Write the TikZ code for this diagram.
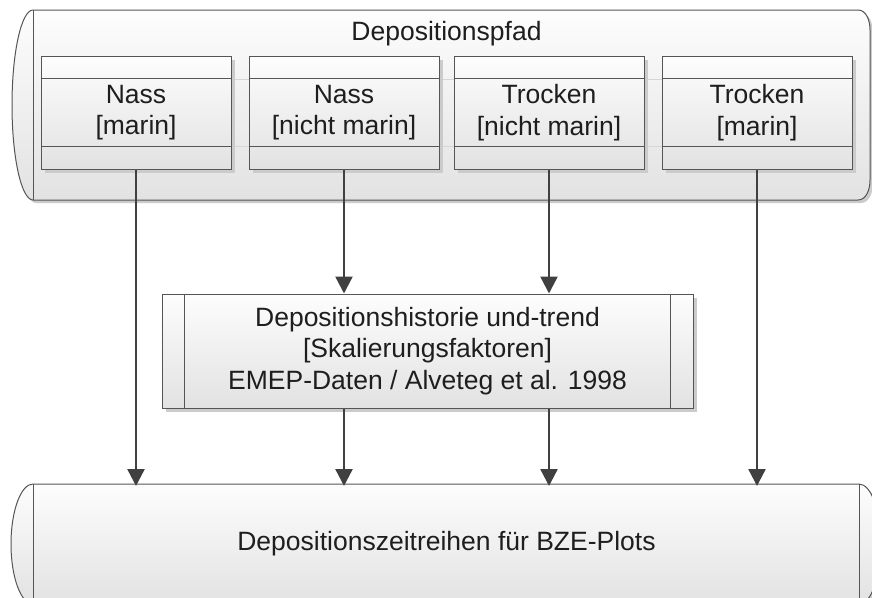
\documentclass[tikz,border=0pt]{standalone}
\usepackage{fontspec}
\setmainfont{Liberation Sans}
\usetikzlibrary{arrows.meta,shadows}
\definecolor{linec}{HTML}{555555}
\definecolor{arrc}{HTML}{404040}
\definecolor{shadc}{HTML}{CBCBCB}
\definecolor{gtop}{HTML}{FDFDFD}
\definecolor{gbot}{HTML}{E2E2E2}
\definecolor{txtc}{HTML}{1E1E1E}
\definecolor{faint}{HTML}{D6D6D6}
\begin{document}
\begin{tikzpicture}[x=1pt,y=-1pt,
  txt/.style={font=\fontsize{26.5}{31.5}\selectfont, text=txtc, align=center},
  contst/.style={draw=linec, line width=1pt, top color=gtop, bottom color=gbot},
  boxst/.style={draw=linec, line width=1pt, top color=gtop, bottom color=gbot,
    drop shadow={shadow xshift=4pt, shadow yshift=-4pt, fill=shadc, opacity=1},
    inner sep=0pt},
  sepline/.style={draw=linec, line width=1pt},
  arr/.style={draw=arrc, line width=2.4pt, -{Triangle[length=17pt,width=17pt]}}]
\useasboundingbox (0,0) rectangle (872,597);
\clip (0,0) rectangle (872,597);
\def\toppath{(33,10) -- (858,10) .. controls (866,10) and (870,20) .. (870,30) -- (870,180) .. controls (870,190) and (866,200) .. (858,200) -- (33,200) .. controls (21.4,200) and (12,157.5) .. (12,105) .. controls (12,52.5) and (21.4,10) .. (33,10) -- cycle}
\def\botpath{(33,484) -- (859,484) .. controls (871.15,484) and (881,510.9) .. (881,544) .. controls (881,577.1) and (871.15,604) .. (859,604) -- (33,604) .. controls (20.85,604) and (11,577.1) .. (11,544) .. controls (11,510.9) and (20.85,484) .. (33,484) -- cycle}
% top container
\begin{scope}[shift={(3,3)}]
  \fill[shadc] \toppath;
\end{scope}
\path[contst] \toppath;
\draw[sepline] (33,10) -- (33,200);
\node[txt, anchor=base] (toptxt) at (446.5,40) {Depositionspfad};
% faint guide lines
\draw[faint, line width=0.8pt] (41,79) -- (852,79);
\draw[faint, line width=0.8pt] (41,146) -- (852,146);
% inner boxes
\node[boxst, txt, minimum width=190pt, minimum height=113pt] (b1) at (136,112.5) {Nass\\{}[marin]};
\node[boxst, txt, minimum width=190pt, minimum height=113pt] (b2) at (344,112.5) {Nass\\{}[nicht marin]};
\node[boxst, txt, minimum width=190pt, minimum height=113pt] (b3) at (549,112.5) {Trocken\\{}[nicht marin]};
\node[boxst, txt, minimum width=190pt, minimum height=113pt] (b4) at (757,112.5) {Trocken\\{}[marin]};
\foreach \b in {b1,b2,b3,b4}{
  \draw[sepline] ([yshift=-23pt]\b.north west) -- ([yshift=-23pt]\b.north east);
  \draw[sepline] ([yshift=23pt]\b.south west) -- ([yshift=23pt]\b.south east);
}
% middle box
\node[boxst, txt, minimum width=531pt, minimum height=114pt] (mid) at (427.5,351)
  {Depositionshistorie und-trend\\{}[Skalierungsfaktoren]\\EMEP-Daten / Alveteg et al. 1998};
\draw[sepline] ([xshift=23pt]mid.north west) -- ([xshift=23pt]mid.south west);
\draw[sepline] ([xshift=-23pt]mid.north east) -- ([xshift=-23pt]mid.south east);
% bottom container
\begin{scope}[shift={(3,3)}]
  \fill[shadc] \botpath;
\end{scope}
\path[contst] \botpath;
\draw[sepline] (33,484) -- (33,604);
\draw[sepline] (859,484) -- (859,604);
\coordinate (botTop) at (446,486);
\node[txt, anchor=base] (bottxt) at (446.5,550) {Depositionszeitreihen für BZE-Plots};
% arrows
\draw[arr] (b1.south) -- (b1 |- botTop);
\draw[arr] (b4.south) -- (b4 |- botTop);
\draw[arr] (b2.south) -- (b2 |- mid.north);
\draw[arr] (b3.south) -- (b3 |- mid.north);
\draw[arr] (b2 |- mid.south) -- (b2 |- botTop);
\draw[arr] (b3 |- mid.south) -- (b3 |- botTop);
\end{tikzpicture}
\end{document}
